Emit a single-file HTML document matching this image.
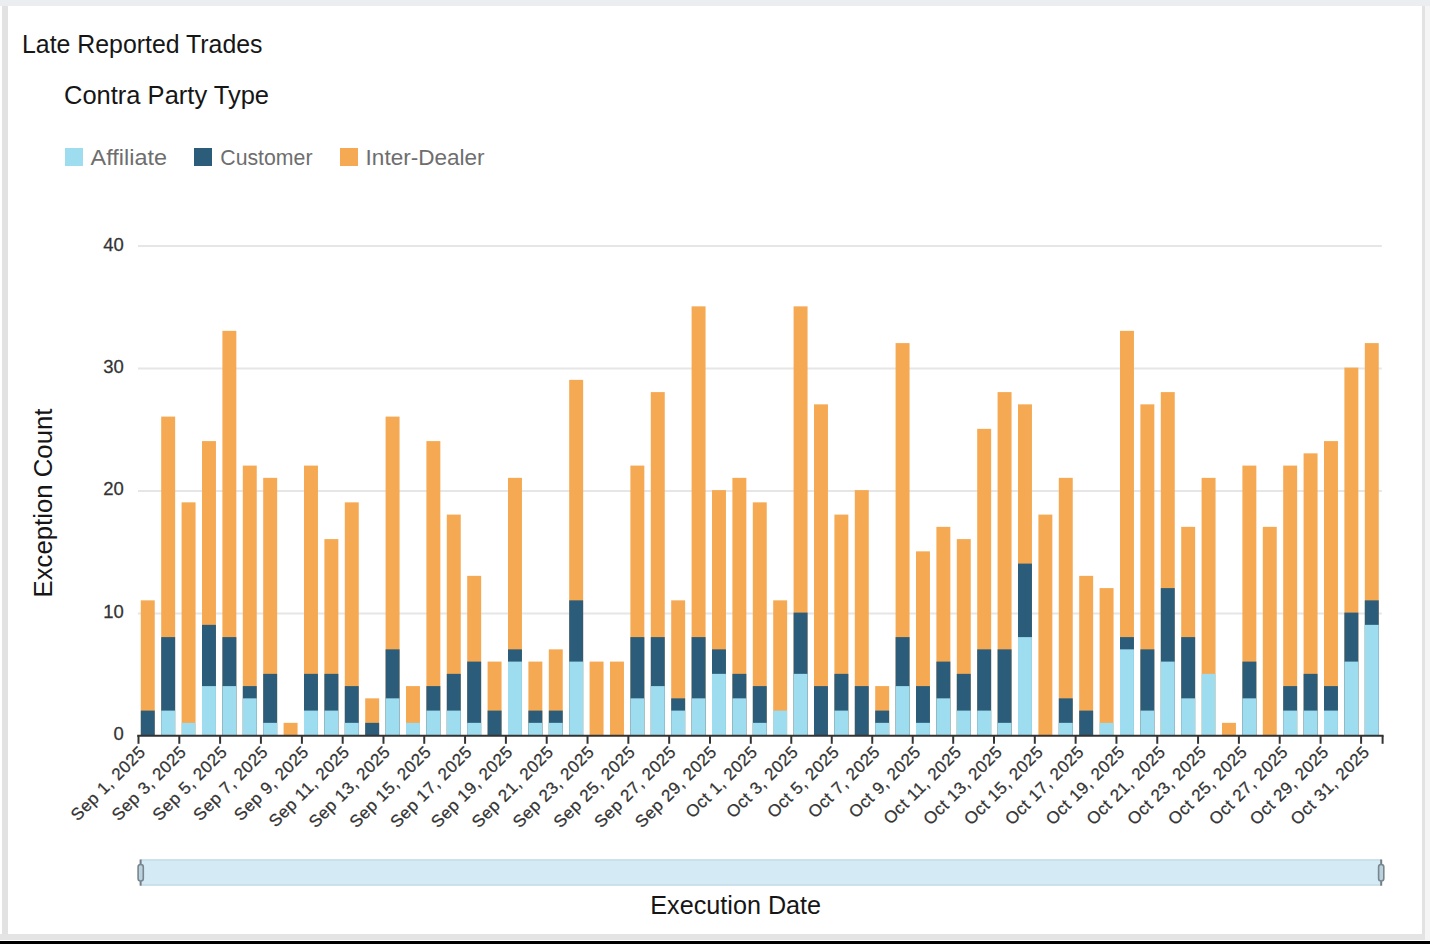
<!DOCTYPE html>
<html><head><meta charset="utf-8"><style>
html,body{margin:0;padding:0;}
body{width:1430px;height:944px;position:relative;overflow:hidden;background:#fff;font-family:"Liberation Sans",sans-serif;}
.abs{position:absolute;}
.t{position:absolute;white-space:nowrap;line-height:1;}
svg text{font-family:"Liberation Sans",sans-serif;}
.yl{font-size:17.6px;fill:#333;stroke:#333;stroke-width:0.25px;}
.xl{font-size:17px;fill:#333;letter-spacing:0.5px;stroke:#333;stroke-width:0.25px;}
</style></head><body>
<div class="abs" style="left:0;top:0;width:1430px;height:6px;background:#ECEDF1"></div>
<div class="abs" style="left:2px;top:6px;width:6px;height:934px;background:#E2E2E2"></div>
<div class="abs" style="left:1422px;top:6px;width:3px;height:934px;background:#E2E2E2"></div>
<div class="abs" style="left:1425px;top:6px;width:5px;height:934px;background:#F5F5F5"></div>
<div class="abs" style="left:0;top:934px;width:1425px;height:6px;background:#E4E4E4"></div>
<div class="abs" style="left:0;top:941px;width:1430px;height:3px;background:#000"></div>
<div class="abs" style="left:65px;top:148px;width:18px;height:18px;background:#9EDCEF"></div>
<div class="abs" style="left:194px;top:148px;width:18px;height:18px;background:#2B5D7B"></div>
<div class="abs" style="left:340px;top:148px;width:18px;height:18px;background:#F5A953"></div>
<svg class="abs" style="left:0;top:0" width="1430" height="944" viewBox="0 0 1430 944">
<line x1="138.0" y1="613.55" x2="1381.8" y2="613.55" stroke="#E6E6E6" stroke-width="1.9"/>
<line x1="138.0" y1="491.05" x2="1381.8" y2="491.05" stroke="#E6E6E6" stroke-width="1.9"/>
<line x1="138.0" y1="368.55" x2="1381.8" y2="368.55" stroke="#E6E6E6" stroke-width="1.9"/>
<line x1="138.0" y1="246.05" x2="1381.8" y2="246.05" stroke="#E6E6E6" stroke-width="1.9"/>
<text transform="translate(123.7,739.75) scale(1.05,1)" text-anchor="end" class="yl">0</text>
<text transform="translate(123.7,617.90) scale(1.05,1)" text-anchor="end" class="yl">10</text>
<text transform="translate(123.7,495.30) scale(1.05,1)" text-anchor="end" class="yl">20</text>
<text transform="translate(123.7,373.00) scale(1.05,1)" text-anchor="end" class="yl">30</text>
<text transform="translate(123.7,250.70) scale(1.05,1)" text-anchor="end" class="yl">40</text>
<rect x="140.80" y="600.35" width="13.95" height="134.75" fill="#F5A953"/>
<rect x="140.80" y="710.60" width="13.95" height="24.50" fill="#2B5D7B"/>
<rect x="161.20" y="416.60" width="13.95" height="318.50" fill="#F5A953"/>
<rect x="161.20" y="637.10" width="13.95" height="98.00" fill="#2B5D7B"/>
<rect x="161.20" y="710.60" width="13.95" height="24.50" fill="#9EDCEF"/>
<rect x="181.60" y="502.35" width="13.95" height="232.75" fill="#F5A953"/>
<rect x="181.60" y="722.85" width="13.95" height="12.25" fill="#9EDCEF"/>
<rect x="202.00" y="441.10" width="13.95" height="294.00" fill="#F5A953"/>
<rect x="202.00" y="624.85" width="13.95" height="110.25" fill="#2B5D7B"/>
<rect x="202.00" y="686.10" width="13.95" height="49.00" fill="#9EDCEF"/>
<rect x="222.40" y="330.85" width="13.95" height="404.25" fill="#F5A953"/>
<rect x="222.40" y="637.10" width="13.95" height="98.00" fill="#2B5D7B"/>
<rect x="222.40" y="686.10" width="13.95" height="49.00" fill="#9EDCEF"/>
<rect x="242.80" y="465.60" width="13.95" height="269.50" fill="#F5A953"/>
<rect x="242.80" y="686.10" width="13.95" height="49.00" fill="#2B5D7B"/>
<rect x="242.80" y="698.35" width="13.95" height="36.75" fill="#9EDCEF"/>
<rect x="263.20" y="477.85" width="13.95" height="257.25" fill="#F5A953"/>
<rect x="263.20" y="673.85" width="13.95" height="61.25" fill="#2B5D7B"/>
<rect x="263.20" y="722.85" width="13.95" height="12.25" fill="#9EDCEF"/>
<rect x="283.60" y="722.85" width="13.95" height="12.25" fill="#F5A953"/>
<rect x="304.00" y="465.60" width="13.95" height="269.50" fill="#F5A953"/>
<rect x="304.00" y="673.85" width="13.95" height="61.25" fill="#2B5D7B"/>
<rect x="304.00" y="710.60" width="13.95" height="24.50" fill="#9EDCEF"/>
<rect x="324.40" y="539.10" width="13.95" height="196.00" fill="#F5A953"/>
<rect x="324.40" y="673.85" width="13.95" height="61.25" fill="#2B5D7B"/>
<rect x="324.40" y="710.60" width="13.95" height="24.50" fill="#9EDCEF"/>
<rect x="344.80" y="502.35" width="13.95" height="232.75" fill="#F5A953"/>
<rect x="344.80" y="686.10" width="13.95" height="49.00" fill="#2B5D7B"/>
<rect x="344.80" y="722.85" width="13.95" height="12.25" fill="#9EDCEF"/>
<rect x="365.20" y="698.35" width="13.95" height="36.75" fill="#F5A953"/>
<rect x="365.20" y="722.85" width="13.95" height="12.25" fill="#2B5D7B"/>
<rect x="385.60" y="416.60" width="13.95" height="318.50" fill="#F5A953"/>
<rect x="385.60" y="649.35" width="13.95" height="85.75" fill="#2B5D7B"/>
<rect x="385.60" y="698.35" width="13.95" height="36.75" fill="#9EDCEF"/>
<rect x="406.00" y="686.10" width="13.95" height="49.00" fill="#F5A953"/>
<rect x="406.00" y="722.85" width="13.95" height="12.25" fill="#9EDCEF"/>
<rect x="426.40" y="441.10" width="13.95" height="294.00" fill="#F5A953"/>
<rect x="426.40" y="686.10" width="13.95" height="49.00" fill="#2B5D7B"/>
<rect x="426.40" y="710.60" width="13.95" height="24.50" fill="#9EDCEF"/>
<rect x="446.80" y="514.60" width="13.95" height="220.50" fill="#F5A953"/>
<rect x="446.80" y="673.85" width="13.95" height="61.25" fill="#2B5D7B"/>
<rect x="446.80" y="710.60" width="13.95" height="24.50" fill="#9EDCEF"/>
<rect x="467.20" y="575.85" width="13.95" height="159.25" fill="#F5A953"/>
<rect x="467.20" y="661.60" width="13.95" height="73.50" fill="#2B5D7B"/>
<rect x="467.20" y="722.85" width="13.95" height="12.25" fill="#9EDCEF"/>
<rect x="487.60" y="661.60" width="13.95" height="73.50" fill="#F5A953"/>
<rect x="487.60" y="710.60" width="13.95" height="24.50" fill="#2B5D7B"/>
<rect x="508.00" y="477.85" width="13.95" height="257.25" fill="#F5A953"/>
<rect x="508.00" y="649.35" width="13.95" height="85.75" fill="#2B5D7B"/>
<rect x="508.00" y="661.60" width="13.95" height="73.50" fill="#9EDCEF"/>
<rect x="528.40" y="661.60" width="13.95" height="73.50" fill="#F5A953"/>
<rect x="528.40" y="710.60" width="13.95" height="24.50" fill="#2B5D7B"/>
<rect x="528.40" y="722.85" width="13.95" height="12.25" fill="#9EDCEF"/>
<rect x="548.80" y="649.35" width="13.95" height="85.75" fill="#F5A953"/>
<rect x="548.80" y="710.60" width="13.95" height="24.50" fill="#2B5D7B"/>
<rect x="548.80" y="722.85" width="13.95" height="12.25" fill="#9EDCEF"/>
<rect x="569.20" y="379.85" width="13.95" height="355.25" fill="#F5A953"/>
<rect x="569.20" y="600.35" width="13.95" height="134.75" fill="#2B5D7B"/>
<rect x="569.20" y="661.60" width="13.95" height="73.50" fill="#9EDCEF"/>
<rect x="589.60" y="661.60" width="13.95" height="73.50" fill="#F5A953"/>
<rect x="610.00" y="661.60" width="13.95" height="73.50" fill="#F5A953"/>
<rect x="630.40" y="465.60" width="13.95" height="269.50" fill="#F5A953"/>
<rect x="630.40" y="637.10" width="13.95" height="98.00" fill="#2B5D7B"/>
<rect x="630.40" y="698.35" width="13.95" height="36.75" fill="#9EDCEF"/>
<rect x="650.80" y="392.10" width="13.95" height="343.00" fill="#F5A953"/>
<rect x="650.80" y="637.10" width="13.95" height="98.00" fill="#2B5D7B"/>
<rect x="650.80" y="686.10" width="13.95" height="49.00" fill="#9EDCEF"/>
<rect x="671.20" y="600.35" width="13.95" height="134.75" fill="#F5A953"/>
<rect x="671.20" y="698.35" width="13.95" height="36.75" fill="#2B5D7B"/>
<rect x="671.20" y="710.60" width="13.95" height="24.50" fill="#9EDCEF"/>
<rect x="691.60" y="306.35" width="13.95" height="428.75" fill="#F5A953"/>
<rect x="691.60" y="637.10" width="13.95" height="98.00" fill="#2B5D7B"/>
<rect x="691.60" y="698.35" width="13.95" height="36.75" fill="#9EDCEF"/>
<rect x="712.00" y="490.10" width="13.95" height="245.00" fill="#F5A953"/>
<rect x="712.00" y="649.35" width="13.95" height="85.75" fill="#2B5D7B"/>
<rect x="712.00" y="673.85" width="13.95" height="61.25" fill="#9EDCEF"/>
<rect x="732.40" y="477.85" width="13.95" height="257.25" fill="#F5A953"/>
<rect x="732.40" y="673.85" width="13.95" height="61.25" fill="#2B5D7B"/>
<rect x="732.40" y="698.35" width="13.95" height="36.75" fill="#9EDCEF"/>
<rect x="752.80" y="502.35" width="13.95" height="232.75" fill="#F5A953"/>
<rect x="752.80" y="686.10" width="13.95" height="49.00" fill="#2B5D7B"/>
<rect x="752.80" y="722.85" width="13.95" height="12.25" fill="#9EDCEF"/>
<rect x="773.20" y="600.35" width="13.95" height="134.75" fill="#F5A953"/>
<rect x="773.20" y="710.60" width="13.95" height="24.50" fill="#9EDCEF"/>
<rect x="793.60" y="306.35" width="13.95" height="428.75" fill="#F5A953"/>
<rect x="793.60" y="612.60" width="13.95" height="122.50" fill="#2B5D7B"/>
<rect x="793.60" y="673.85" width="13.95" height="61.25" fill="#9EDCEF"/>
<rect x="814.00" y="404.35" width="13.95" height="330.75" fill="#F5A953"/>
<rect x="814.00" y="686.10" width="13.95" height="49.00" fill="#2B5D7B"/>
<rect x="834.40" y="514.60" width="13.95" height="220.50" fill="#F5A953"/>
<rect x="834.40" y="673.85" width="13.95" height="61.25" fill="#2B5D7B"/>
<rect x="834.40" y="710.60" width="13.95" height="24.50" fill="#9EDCEF"/>
<rect x="854.80" y="490.10" width="13.95" height="245.00" fill="#F5A953"/>
<rect x="854.80" y="686.10" width="13.95" height="49.00" fill="#2B5D7B"/>
<rect x="875.20" y="686.10" width="13.95" height="49.00" fill="#F5A953"/>
<rect x="875.20" y="710.60" width="13.95" height="24.50" fill="#2B5D7B"/>
<rect x="875.20" y="722.85" width="13.95" height="12.25" fill="#9EDCEF"/>
<rect x="895.60" y="343.10" width="13.95" height="392.00" fill="#F5A953"/>
<rect x="895.60" y="637.10" width="13.95" height="98.00" fill="#2B5D7B"/>
<rect x="895.60" y="686.10" width="13.95" height="49.00" fill="#9EDCEF"/>
<rect x="916.00" y="551.35" width="13.95" height="183.75" fill="#F5A953"/>
<rect x="916.00" y="686.10" width="13.95" height="49.00" fill="#2B5D7B"/>
<rect x="916.00" y="722.85" width="13.95" height="12.25" fill="#9EDCEF"/>
<rect x="936.40" y="526.85" width="13.95" height="208.25" fill="#F5A953"/>
<rect x="936.40" y="661.60" width="13.95" height="73.50" fill="#2B5D7B"/>
<rect x="936.40" y="698.35" width="13.95" height="36.75" fill="#9EDCEF"/>
<rect x="956.80" y="539.10" width="13.95" height="196.00" fill="#F5A953"/>
<rect x="956.80" y="673.85" width="13.95" height="61.25" fill="#2B5D7B"/>
<rect x="956.80" y="710.60" width="13.95" height="24.50" fill="#9EDCEF"/>
<rect x="977.20" y="428.85" width="13.95" height="306.25" fill="#F5A953"/>
<rect x="977.20" y="649.35" width="13.95" height="85.75" fill="#2B5D7B"/>
<rect x="977.20" y="710.60" width="13.95" height="24.50" fill="#9EDCEF"/>
<rect x="997.60" y="392.10" width="13.95" height="343.00" fill="#F5A953"/>
<rect x="997.60" y="649.35" width="13.95" height="85.75" fill="#2B5D7B"/>
<rect x="997.60" y="722.85" width="13.95" height="12.25" fill="#9EDCEF"/>
<rect x="1018.00" y="404.35" width="13.95" height="330.75" fill="#F5A953"/>
<rect x="1018.00" y="563.60" width="13.95" height="171.50" fill="#2B5D7B"/>
<rect x="1018.00" y="637.10" width="13.95" height="98.00" fill="#9EDCEF"/>
<rect x="1038.40" y="514.60" width="13.95" height="220.50" fill="#F5A953"/>
<rect x="1058.80" y="477.85" width="13.95" height="257.25" fill="#F5A953"/>
<rect x="1058.80" y="698.35" width="13.95" height="36.75" fill="#2B5D7B"/>
<rect x="1058.80" y="722.85" width="13.95" height="12.25" fill="#9EDCEF"/>
<rect x="1079.20" y="575.85" width="13.95" height="159.25" fill="#F5A953"/>
<rect x="1079.20" y="710.60" width="13.95" height="24.50" fill="#2B5D7B"/>
<rect x="1099.60" y="588.10" width="13.95" height="147.00" fill="#F5A953"/>
<rect x="1099.60" y="722.85" width="13.95" height="12.25" fill="#9EDCEF"/>
<rect x="1120.00" y="330.85" width="13.95" height="404.25" fill="#F5A953"/>
<rect x="1120.00" y="637.10" width="13.95" height="98.00" fill="#2B5D7B"/>
<rect x="1120.00" y="649.35" width="13.95" height="85.75" fill="#9EDCEF"/>
<rect x="1140.40" y="404.35" width="13.95" height="330.75" fill="#F5A953"/>
<rect x="1140.40" y="649.35" width="13.95" height="85.75" fill="#2B5D7B"/>
<rect x="1140.40" y="710.60" width="13.95" height="24.50" fill="#9EDCEF"/>
<rect x="1160.80" y="392.10" width="13.95" height="343.00" fill="#F5A953"/>
<rect x="1160.80" y="588.10" width="13.95" height="147.00" fill="#2B5D7B"/>
<rect x="1160.80" y="661.60" width="13.95" height="73.50" fill="#9EDCEF"/>
<rect x="1181.20" y="526.85" width="13.95" height="208.25" fill="#F5A953"/>
<rect x="1181.20" y="637.10" width="13.95" height="98.00" fill="#2B5D7B"/>
<rect x="1181.20" y="698.35" width="13.95" height="36.75" fill="#9EDCEF"/>
<rect x="1201.60" y="477.85" width="13.95" height="257.25" fill="#F5A953"/>
<rect x="1201.60" y="673.85" width="13.95" height="61.25" fill="#9EDCEF"/>
<rect x="1222.00" y="722.85" width="13.95" height="12.25" fill="#F5A953"/>
<rect x="1242.40" y="465.60" width="13.95" height="269.50" fill="#F5A953"/>
<rect x="1242.40" y="661.60" width="13.95" height="73.50" fill="#2B5D7B"/>
<rect x="1242.40" y="698.35" width="13.95" height="36.75" fill="#9EDCEF"/>
<rect x="1262.80" y="526.85" width="13.95" height="208.25" fill="#F5A953"/>
<rect x="1283.20" y="465.60" width="13.95" height="269.50" fill="#F5A953"/>
<rect x="1283.20" y="686.10" width="13.95" height="49.00" fill="#2B5D7B"/>
<rect x="1283.20" y="710.60" width="13.95" height="24.50" fill="#9EDCEF"/>
<rect x="1303.60" y="453.35" width="13.95" height="281.75" fill="#F5A953"/>
<rect x="1303.60" y="673.85" width="13.95" height="61.25" fill="#2B5D7B"/>
<rect x="1303.60" y="710.60" width="13.95" height="24.50" fill="#9EDCEF"/>
<rect x="1324.00" y="441.10" width="13.95" height="294.00" fill="#F5A953"/>
<rect x="1324.00" y="686.10" width="13.95" height="49.00" fill="#2B5D7B"/>
<rect x="1324.00" y="710.60" width="13.95" height="24.50" fill="#9EDCEF"/>
<rect x="1344.40" y="367.60" width="13.95" height="367.50" fill="#F5A953"/>
<rect x="1344.40" y="612.60" width="13.95" height="122.50" fill="#2B5D7B"/>
<rect x="1344.40" y="661.60" width="13.95" height="73.50" fill="#9EDCEF"/>
<rect x="1364.80" y="343.10" width="13.95" height="392.00" fill="#F5A953"/>
<rect x="1364.80" y="600.35" width="13.95" height="134.75" fill="#2B5D7B"/>
<rect x="1364.80" y="624.85" width="13.95" height="110.25" fill="#9EDCEF"/>
<line x1="137.2" y1="735.80" x2="1383.6" y2="735.80" stroke="#333333" stroke-width="2"/>
<line x1="138.50" y1="735.80" x2="138.50" y2="743.80" stroke="#333333" stroke-width="2"/>
<line x1="179.30" y1="735.80" x2="179.30" y2="743.80" stroke="#333333" stroke-width="2"/>
<line x1="220.10" y1="735.80" x2="220.10" y2="743.80" stroke="#333333" stroke-width="2"/>
<line x1="260.90" y1="735.80" x2="260.90" y2="743.80" stroke="#333333" stroke-width="2"/>
<line x1="301.90" y1="735.80" x2="301.90" y2="743.80" stroke="#333333" stroke-width="2"/>
<line x1="342.68" y1="735.80" x2="342.68" y2="743.80" stroke="#333333" stroke-width="2"/>
<line x1="383.47" y1="735.80" x2="383.47" y2="743.80" stroke="#333333" stroke-width="2"/>
<line x1="424.25" y1="735.80" x2="424.25" y2="743.80" stroke="#333333" stroke-width="2"/>
<line x1="465.07" y1="735.80" x2="465.07" y2="743.80" stroke="#333333" stroke-width="2"/>
<line x1="505.89" y1="735.80" x2="505.89" y2="743.80" stroke="#333333" stroke-width="2"/>
<line x1="546.71" y1="735.80" x2="546.71" y2="743.80" stroke="#333333" stroke-width="2"/>
<line x1="587.54" y1="735.80" x2="587.54" y2="743.80" stroke="#333333" stroke-width="2"/>
<line x1="628.36" y1="735.80" x2="628.36" y2="743.80" stroke="#333333" stroke-width="2"/>
<line x1="669.18" y1="735.80" x2="669.18" y2="743.80" stroke="#333333" stroke-width="2"/>
<line x1="710.00" y1="735.80" x2="710.00" y2="743.80" stroke="#333333" stroke-width="2"/>
<line x1="750.80" y1="735.80" x2="750.80" y2="743.80" stroke="#333333" stroke-width="2"/>
<line x1="791.28" y1="735.80" x2="791.28" y2="743.80" stroke="#333333" stroke-width="2"/>
<line x1="831.76" y1="735.80" x2="831.76" y2="743.80" stroke="#333333" stroke-width="2"/>
<line x1="872.24" y1="735.80" x2="872.24" y2="743.80" stroke="#333333" stroke-width="2"/>
<line x1="912.72" y1="735.80" x2="912.72" y2="743.80" stroke="#333333" stroke-width="2"/>
<line x1="953.20" y1="735.80" x2="953.20" y2="743.80" stroke="#333333" stroke-width="2"/>
<line x1="994.00" y1="735.80" x2="994.00" y2="743.80" stroke="#333333" stroke-width="2"/>
<line x1="1034.81" y1="735.80" x2="1034.81" y2="743.80" stroke="#333333" stroke-width="2"/>
<line x1="1075.63" y1="735.80" x2="1075.63" y2="743.80" stroke="#333333" stroke-width="2"/>
<line x1="1116.44" y1="735.80" x2="1116.44" y2="743.80" stroke="#333333" stroke-width="2"/>
<line x1="1157.26" y1="735.80" x2="1157.26" y2="743.80" stroke="#333333" stroke-width="2"/>
<line x1="1198.07" y1="735.80" x2="1198.07" y2="743.80" stroke="#333333" stroke-width="2"/>
<line x1="1238.89" y1="735.80" x2="1238.89" y2="743.80" stroke="#333333" stroke-width="2"/>
<line x1="1279.70" y1="735.80" x2="1279.70" y2="743.80" stroke="#333333" stroke-width="2"/>
<line x1="1320.60" y1="735.80" x2="1320.60" y2="743.80" stroke="#333333" stroke-width="2"/>
<line x1="1361.10" y1="735.80" x2="1361.10" y2="743.80" stroke="#333333" stroke-width="2"/>
<line x1="1382.60" y1="735.80" x2="1382.60" y2="743.80" stroke="#333333" stroke-width="2"/>
<text transform="translate(146.60,753.0) rotate(-45)" x="0" y="0" text-anchor="end" class="xl">Sep 1, 2025</text>
<text transform="translate(187.40,753.0) rotate(-45)" x="0" y="0" text-anchor="end" class="xl">Sep 3, 2025</text>
<text transform="translate(228.20,753.0) rotate(-45)" x="0" y="0" text-anchor="end" class="xl">Sep 5, 2025</text>
<text transform="translate(269.00,753.0) rotate(-45)" x="0" y="0" text-anchor="end" class="xl">Sep 7, 2025</text>
<text transform="translate(309.80,753.0) rotate(-45)" x="0" y="0" text-anchor="end" class="xl">Sep 9, 2025</text>
<text transform="translate(350.60,753.0) rotate(-45)" x="0" y="0" text-anchor="end" class="xl">Sep 11, 2025</text>
<text transform="translate(391.40,753.0) rotate(-45)" x="0" y="0" text-anchor="end" class="xl">Sep 13, 2025</text>
<text transform="translate(432.20,753.0) rotate(-45)" x="0" y="0" text-anchor="end" class="xl">Sep 15, 2025</text>
<text transform="translate(473.00,753.0) rotate(-45)" x="0" y="0" text-anchor="end" class="xl">Sep 17, 2025</text>
<text transform="translate(513.80,753.0) rotate(-45)" x="0" y="0" text-anchor="end" class="xl">Sep 19, 2025</text>
<text transform="translate(554.60,753.0) rotate(-45)" x="0" y="0" text-anchor="end" class="xl">Sep 21, 2025</text>
<text transform="translate(595.40,753.0) rotate(-45)" x="0" y="0" text-anchor="end" class="xl">Sep 23, 2025</text>
<text transform="translate(636.20,753.0) rotate(-45)" x="0" y="0" text-anchor="end" class="xl">Sep 25, 2025</text>
<text transform="translate(677.00,753.0) rotate(-45)" x="0" y="0" text-anchor="end" class="xl">Sep 27, 2025</text>
<text transform="translate(717.80,753.0) rotate(-45)" x="0" y="0" text-anchor="end" class="xl">Sep 29, 2025</text>
<text transform="translate(758.60,753.0) rotate(-45)" x="0" y="0" text-anchor="end" class="xl">Oct 1, 2025</text>
<text transform="translate(799.40,753.0) rotate(-45)" x="0" y="0" text-anchor="end" class="xl">Oct 3, 2025</text>
<text transform="translate(840.20,753.0) rotate(-45)" x="0" y="0" text-anchor="end" class="xl">Oct 5, 2025</text>
<text transform="translate(881.00,753.0) rotate(-45)" x="0" y="0" text-anchor="end" class="xl">Oct 7, 2025</text>
<text transform="translate(921.80,753.0) rotate(-45)" x="0" y="0" text-anchor="end" class="xl">Oct 9, 2025</text>
<text transform="translate(962.60,753.0) rotate(-45)" x="0" y="0" text-anchor="end" class="xl">Oct 11, 2025</text>
<text transform="translate(1003.40,753.0) rotate(-45)" x="0" y="0" text-anchor="end" class="xl">Oct 13, 2025</text>
<text transform="translate(1044.20,753.0) rotate(-45)" x="0" y="0" text-anchor="end" class="xl">Oct 15, 2025</text>
<text transform="translate(1085.00,753.0) rotate(-45)" x="0" y="0" text-anchor="end" class="xl">Oct 17, 2025</text>
<text transform="translate(1125.80,753.0) rotate(-45)" x="0" y="0" text-anchor="end" class="xl">Oct 19, 2025</text>
<text transform="translate(1166.60,753.0) rotate(-45)" x="0" y="0" text-anchor="end" class="xl">Oct 21, 2025</text>
<text transform="translate(1207.40,753.0) rotate(-45)" x="0" y="0" text-anchor="end" class="xl">Oct 23, 2025</text>
<text transform="translate(1248.20,753.0) rotate(-45)" x="0" y="0" text-anchor="end" class="xl">Oct 25, 2025</text>
<text transform="translate(1289.00,753.0) rotate(-45)" x="0" y="0" text-anchor="end" class="xl">Oct 27, 2025</text>
<text transform="translate(1329.80,753.0) rotate(-45)" x="0" y="0" text-anchor="end" class="xl">Oct 29, 2025</text>
<text transform="translate(1370.60,753.0) rotate(-45)" x="0" y="0" text-anchor="end" class="xl">Oct 31, 2025</text>
<text transform="translate(22.0,52.9) scale(0.995,1)" style="font-size:25px;fill:#161616">Late Reported Trades</text>
<text transform="translate(64.0,103.5) scale(1.0,1)" style="font-size:25.5px;fill:#161616">Contra Party Type</text>
<text transform="translate(90.6,165) scale(1.09,1)" style="font-size:21.5px;fill:#6E6E6E">Affiliate</text>
<text transform="translate(220.3,165) scale(0.99,1)" style="font-size:21.5px;fill:#6E6E6E">Customer</text>
<text transform="translate(365.6,165) scale(1.048,1)" style="font-size:21.5px;fill:#6E6E6E">Inter-Dealer</text>
<text transform="translate(52.1,503.0) rotate(-90) scale(1.01,1)" text-anchor="middle" style="font-size:25.5px;fill:#161616">Exception Count</text>
<text x="735.7" y="914" text-anchor="middle" style="font-size:25.2px;fill:#161616">Execution Date</text>
<rect x="140.6" y="859.5" width="1240.6" height="26" fill="#D4EAF5"/>
<line x1="140.6" y1="859.9" x2="1381.2" y2="859.9" stroke="#C4DCE7" stroke-width="1.5"/>
<line x1="140.6" y1="885.0" x2="1381.2" y2="885.0" stroke="#C4DCE7" stroke-width="1.5"/>
<g stroke="#6F7F88" stroke-width="2">
<line x1="140.6" y1="859.5" x2="140.6" y2="885.7"/>
<line x1="1381.2" y1="859.5" x2="1381.2" y2="885.7"/>
</g>
<rect x="138.1" y="864.5" width="5.2" height="16.5" rx="2.5" fill="#B9D2DE" stroke="#7A868D" stroke-width="1.6"/>
<rect x="1378.6" y="864.5" width="5.2" height="16.5" rx="2.5" fill="#B9D2DE" stroke="#7A868D" stroke-width="1.6"/>
</svg>
</body></html>
